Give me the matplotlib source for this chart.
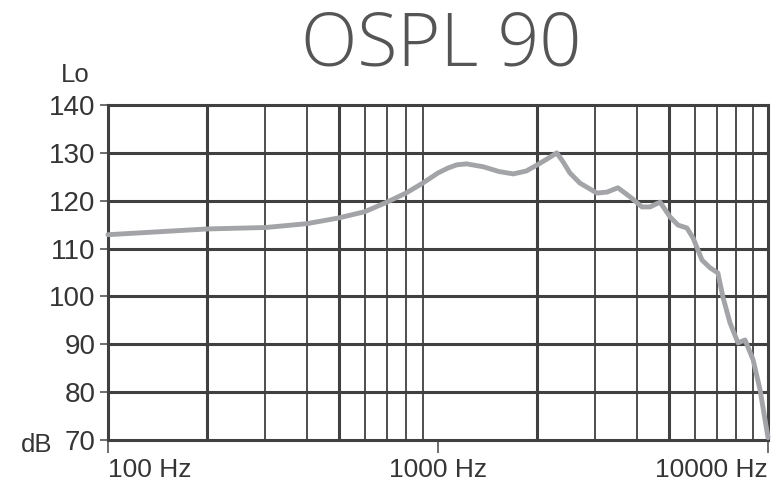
import matplotlib
matplotlib.use('Agg')
from matplotlib import pyplot as plt
from matplotlib.ticker import NullLocator, FixedLocator

# OSPL 90 response curve (Hz, dB)
freq = [100, 200, 300, 400, 500, 600, 700, 800, 900, 1000,
        1070, 1140, 1220, 1370, 1530, 1690, 1850, 2000, 2150, 2290,
        2400, 2510, 2690, 3030, 3250, 3510, 3820, 4150, 4390, 4710,
        5050, 5340, 5680, 5930, 6310, 6670, 7050, 7300, 7670, 8110,
        8520, 9010, 9460, 10000]
ospl = [112.9, 114.1, 114.4, 115.2, 116.4, 117.7, 119.7, 121.6, 123.7, 125.8,
        126.8, 127.5, 127.7, 127.1, 126.1, 125.6, 126.2, 127.5, 128.8, 130.0,
        128.0, 125.8, 123.7, 121.6, 121.8, 122.7, 120.8, 118.7, 118.7, 119.7,
        116.6, 114.9, 114.3, 112.2, 107.6, 106.0, 104.9, 99.9, 94.5, 90.3,
        90.9, 86.8, 80.5, 70.5]

x_ticks = [100, 1000, 10000]
x_labels = ['100 Hz', '1000 Hz', '10000 Hz']
y_ticks = [70, 80, 90, 100, 110, 120, 130, 140]

grid_col = '#404040'
text_col = '#353535'

fig = plt.figure(figsize=(7.72, 4.82), dpi=100)
ax = fig.add_axes([108 / 772, 1 - 440 / 482, 660 / 772, 335 / 482])
ax.set_xscale('log')
ax.set_xlim(100, 10000)
ax.set_ylim(70, 140)

# paper-style grid: heavy lines at 2 and 5, light ones for the rest
for dec in (100, 1000):
    for m in range(2, 10):
        heavy = m in (2, 5)
        ax.axvline(dec * m, color=grid_col, lw=2.2 if heavy else 1.3, zorder=1)
for v in y_ticks[1:-1]:
    ax.axhline(v, color=grid_col, lw=2.2, zorder=1)
for s in ax.spines.values():
    s.set_color(grid_col)
    s.set_linewidth(2.2)

ax.plot(freq, ospl, color='#a3a4a7', lw=3.5, solid_joinstyle='round',
        solid_capstyle='round', zorder=3, clip_on=False)

ax.xaxis.set_major_locator(FixedLocator(x_ticks))
ax.xaxis.set_minor_locator(NullLocator())
ax.set_xticklabels(x_labels)
ax.set_yticks(y_ticks)
ax.tick_params(axis='x', length=9, width=1.2, color='#555555', pad=4,
               labelsize=19, labelcolor=text_col)
ax.tick_params(axis='y', length=6, width=1.2, color='#555555', pad=3,
               labelsize=20, labelcolor=text_col)
for lab in ax.get_xticklabels() + ax.get_yticklabels():
    lab.set_fontfamily('Liberation Sans')
lbls = ax.get_xticklabels()
lbls[0].set_ha('left')
lbls[-1].set_ha('right')

fig.text(61 / 772, 1 - 75 / 482, 'Lo', fontsize=18.5, color=text_col,
         family='Liberation Sans', va='center', ha='left')
fig.text(21 / 772, 1 - 445 / 482, 'dB', fontsize=18.5, color=text_col,
         family='Liberation Sans', va='center', ha='left')
fig.text(441 / 772, 1 - 46 / 482, 'OSPL 90', fontsize=53, color='#555555',
         family='Open Sans', weight='light', ha='center', va='center')

fig.savefig('out.png', dpi=100)
